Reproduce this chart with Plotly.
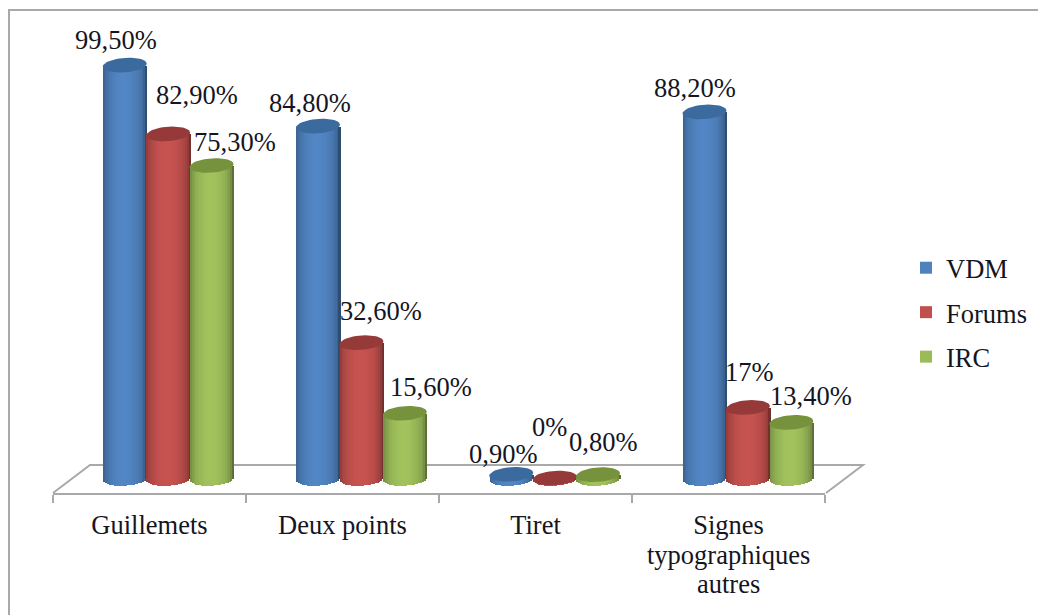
import math
import plotly.graph_objects as go

categories = ["Guillemets", "Deux points", "Tiret", "Signes"]
last_category_extra_lines = ["typographiques", "autres"]
vdm = [99.5, 84.8, 0.9, 88.2]
forums = [82.9, 32.6, 0.0, 17.0]
irc = [75.3, 15.6, 0.8, 13.4]
vdm_labels = ["99,50%", "84,80%", "0,90%", "88,20%"]
forums_labels = ["82,90%", "32,60%", "0%", "17%"]
irc_labels = ["75,30%", "15,60%", "0,80%", "13,40%"]

# label offsets from the cylinder top, in pixels
vdm_off = [(-9, -25), (-8, -23), (-8, -20), (-9, -24)]
forums_off = [(29, -39), (20, -32), (-5.5, -51), (2, -35.5)]
irc_off = [(23, -23.5), (26, -26), (5, -33), (20, -26)]

W, H = 1038, 615
FONT = "Liberation Serif"
FS = 26.5
TXT = "#15151f"
GRAY = "#a9a9a9"

series = [
    ("VDM", vdm, vdm_labels, vdm_off, (79, 129, 189), "#3b6a9f", -1),
    ("Forums", forums, forums_labels, forums_off, (192, 80, 77), "#953a38", 0),
    ("IRC", irc, irc_labels, irc_off, (155, 187, 89), "#76923c", 1),
]

# pixel frame of the category scale that carries the cylinders
PX_L, PX_R = 71.5, 844.5
Y0_PX = 478.0
PX_PER_UNIT = 4.15
Y_MIN, Y_MAX = -5.0, 110.0
PX_PER_CAT = (PX_R - PX_L) / 4
BAR_W = 44.0
BAR_STEP = 43.4
STRIPS = 24
CAP_H = 7.2
TILT = 1.5


def shade(rgb, t):
    f = 0.60 + 0.44 * math.sqrt(max(0.0, 1 - (t + 0.05) ** 2))
    return "rgb({},{},{})".format(*[min(255, int(c * f)) for c in rgb])


fig = go.Figure()

annotations = []
for name, vals, labs, offs, rgb, cap, pos in series:
    xs, ys, bases, widths, cols = [], [], [], [], []
    sw = BAR_W / STRIPS / PX_PER_CAT
    for i, v in enumerate(vals):
        cx = i + 0.5 + pos * BAR_STEP / PX_PER_CAT
        for k in range(STRIPS):
            t = -1 + (2 * k + 1) / STRIPS
            low = -(CAP_H * math.sqrt(1 - t * t) - TILT * t) / PX_PER_UNIT
            xs.append(cx + t * BAR_W / 2 / PX_PER_CAT)
            bases.append(low)
            ys.append(v - low)
            widths.append(sw * 1.2)
            cols.append(shade(rgb, t))
    fig.add_trace(go.Bar(x=xs, y=ys, base=bases, width=widths,
                         marker=dict(color=cols, line=dict(width=0)),
                         showlegend=False, hoverinfo="skip"))

for name, vals, labs, offs, rgb, cap, pos in series:
    ex, ey = [], []
    for i, v in enumerate(vals):
        cx = i + 0.5 + pos * BAR_STEP / PX_PER_CAT
        for a in range(0, 361, 8):
            r = math.radians(a)
            ex.append(cx + (BAR_W / 2) * math.cos(r) / PX_PER_CAT)
            ey.append(v + (CAP_H * math.sin(r) + TILT * math.cos(r)) / PX_PER_UNIT)
        ex.append(None)
        ey.append(None)
        annotations.append(dict(x=cx, y=v, xref="x", yref="y", text=labs[i], showarrow=False,
                                xshift=offs[i][0], yshift=-offs[i][1],
                                xanchor="center", yanchor="middle",
                                font=dict(family=FONT, size=FS, color=TXT)))
    fig.add_trace(go.Scatter(x=ex, y=ey, mode="lines", fill="toself", fillcolor=cap,
                             line=dict(width=0, color=cap), showlegend=False, hoverinfo="skip"))

for i, (name, vals, labs, offs, rgb, cap, pos) in enumerate(series):
    fig.add_trace(go.Bar(x=[None], y=[None], name=name, legendgroup=name,
                         marker=dict(color="rgb({},{},{})".format(*rgb), line=dict(width=0))))

# axis with the labels: front edge of the floor
fig.add_trace(go.Scatter(x=categories, y=[0, 0, 0, 0], xaxis="x2", yaxis="y2", mode="none",
                         showlegend=False, hoverinfo="skip"))

# remaining lines of the last category label, tighter than the library's line height
for line, y_px in zip(last_category_extra_lines, [555, 584]):
    annotations.append(dict(x=categories[3], xref="x2", y=1 - y_px / H, yref="paper", text=line,
                            showarrow=False, xanchor="center", yanchor="middle",
                            font=dict(family=FONT, size=FS, color=TXT)))

floor = dict(type="path", xref="paper", yref="paper", layer="below",
             path="M {} {} L {} {} L {} {} L {} {}".format(
                 53 / W, 1 - 493 / H, 90 / W, 1 - 465 / H, 863 / W, 1 - 465 / H, 826 / W, 1 - 493 / H),
             line=dict(color=GRAY, width=2))
border = dict(type="path", xref="paper", yref="paper", layer="below",
              path="M {} {} L {} {} L {} {}".format(9 / W, 0, 9 / W, 1 - 10 / H, 1, 1 - 10 / H),
              line=dict(color=GRAY, width=2))

fig.update_layout(
    width=W, height=H, margin=dict(l=0, r=0, t=0, b=0),
    paper_bgcolor="white", plot_bgcolor="rgba(0,0,0,0)",
    barmode="overlay", bargap=0,
    font=dict(family=FONT, size=FS, color=TXT),
    xaxis=dict(domain=[PX_L / W, PX_R / W], range=[0, 4], visible=False, fixedrange=True),
    yaxis=dict(domain=[1 - (Y0_PX - Y_MIN * PX_PER_UNIT) / H, 1 - (Y0_PX - Y_MAX * PX_PER_UNIT) / H],
               range=[Y_MIN, Y_MAX], visible=False, fixedrange=True),
    xaxis2=dict(domain=[53 / W, 825 / W], anchor="y2", type="category", tickson="boundaries",
                range=[-0.5, 3.5], showgrid=False, showline=True, linecolor=GRAY, linewidth=2,
                ticks="outside", ticklen=8, tickwidth=1.5, tickcolor=GRAY,
                tickfont=dict(family=FONT, size=FS, color=TXT), ticklabelstandoff=7, fixedrange=True),
    yaxis2=dict(domain=[1 - 493 / H, 1 - 400 / H], anchor="x2", visible=False, fixedrange=True),
    legend=dict(x=906 / W, y=1 - 244 / H, xanchor="left", yanchor="top", bgcolor="rgba(0,0,0,0)",
                traceorder="grouped", tracegroupgap=7, font=dict(family=FONT, size=FS, color=TXT),
                itemclick=False, itemdoubleclick=False),
    shapes=[floor, border],
    annotations=annotations,
)

fig.write_html("out.html", config=dict(displayModeBar=False),
               post_script="document.body.style.margin='0';")
